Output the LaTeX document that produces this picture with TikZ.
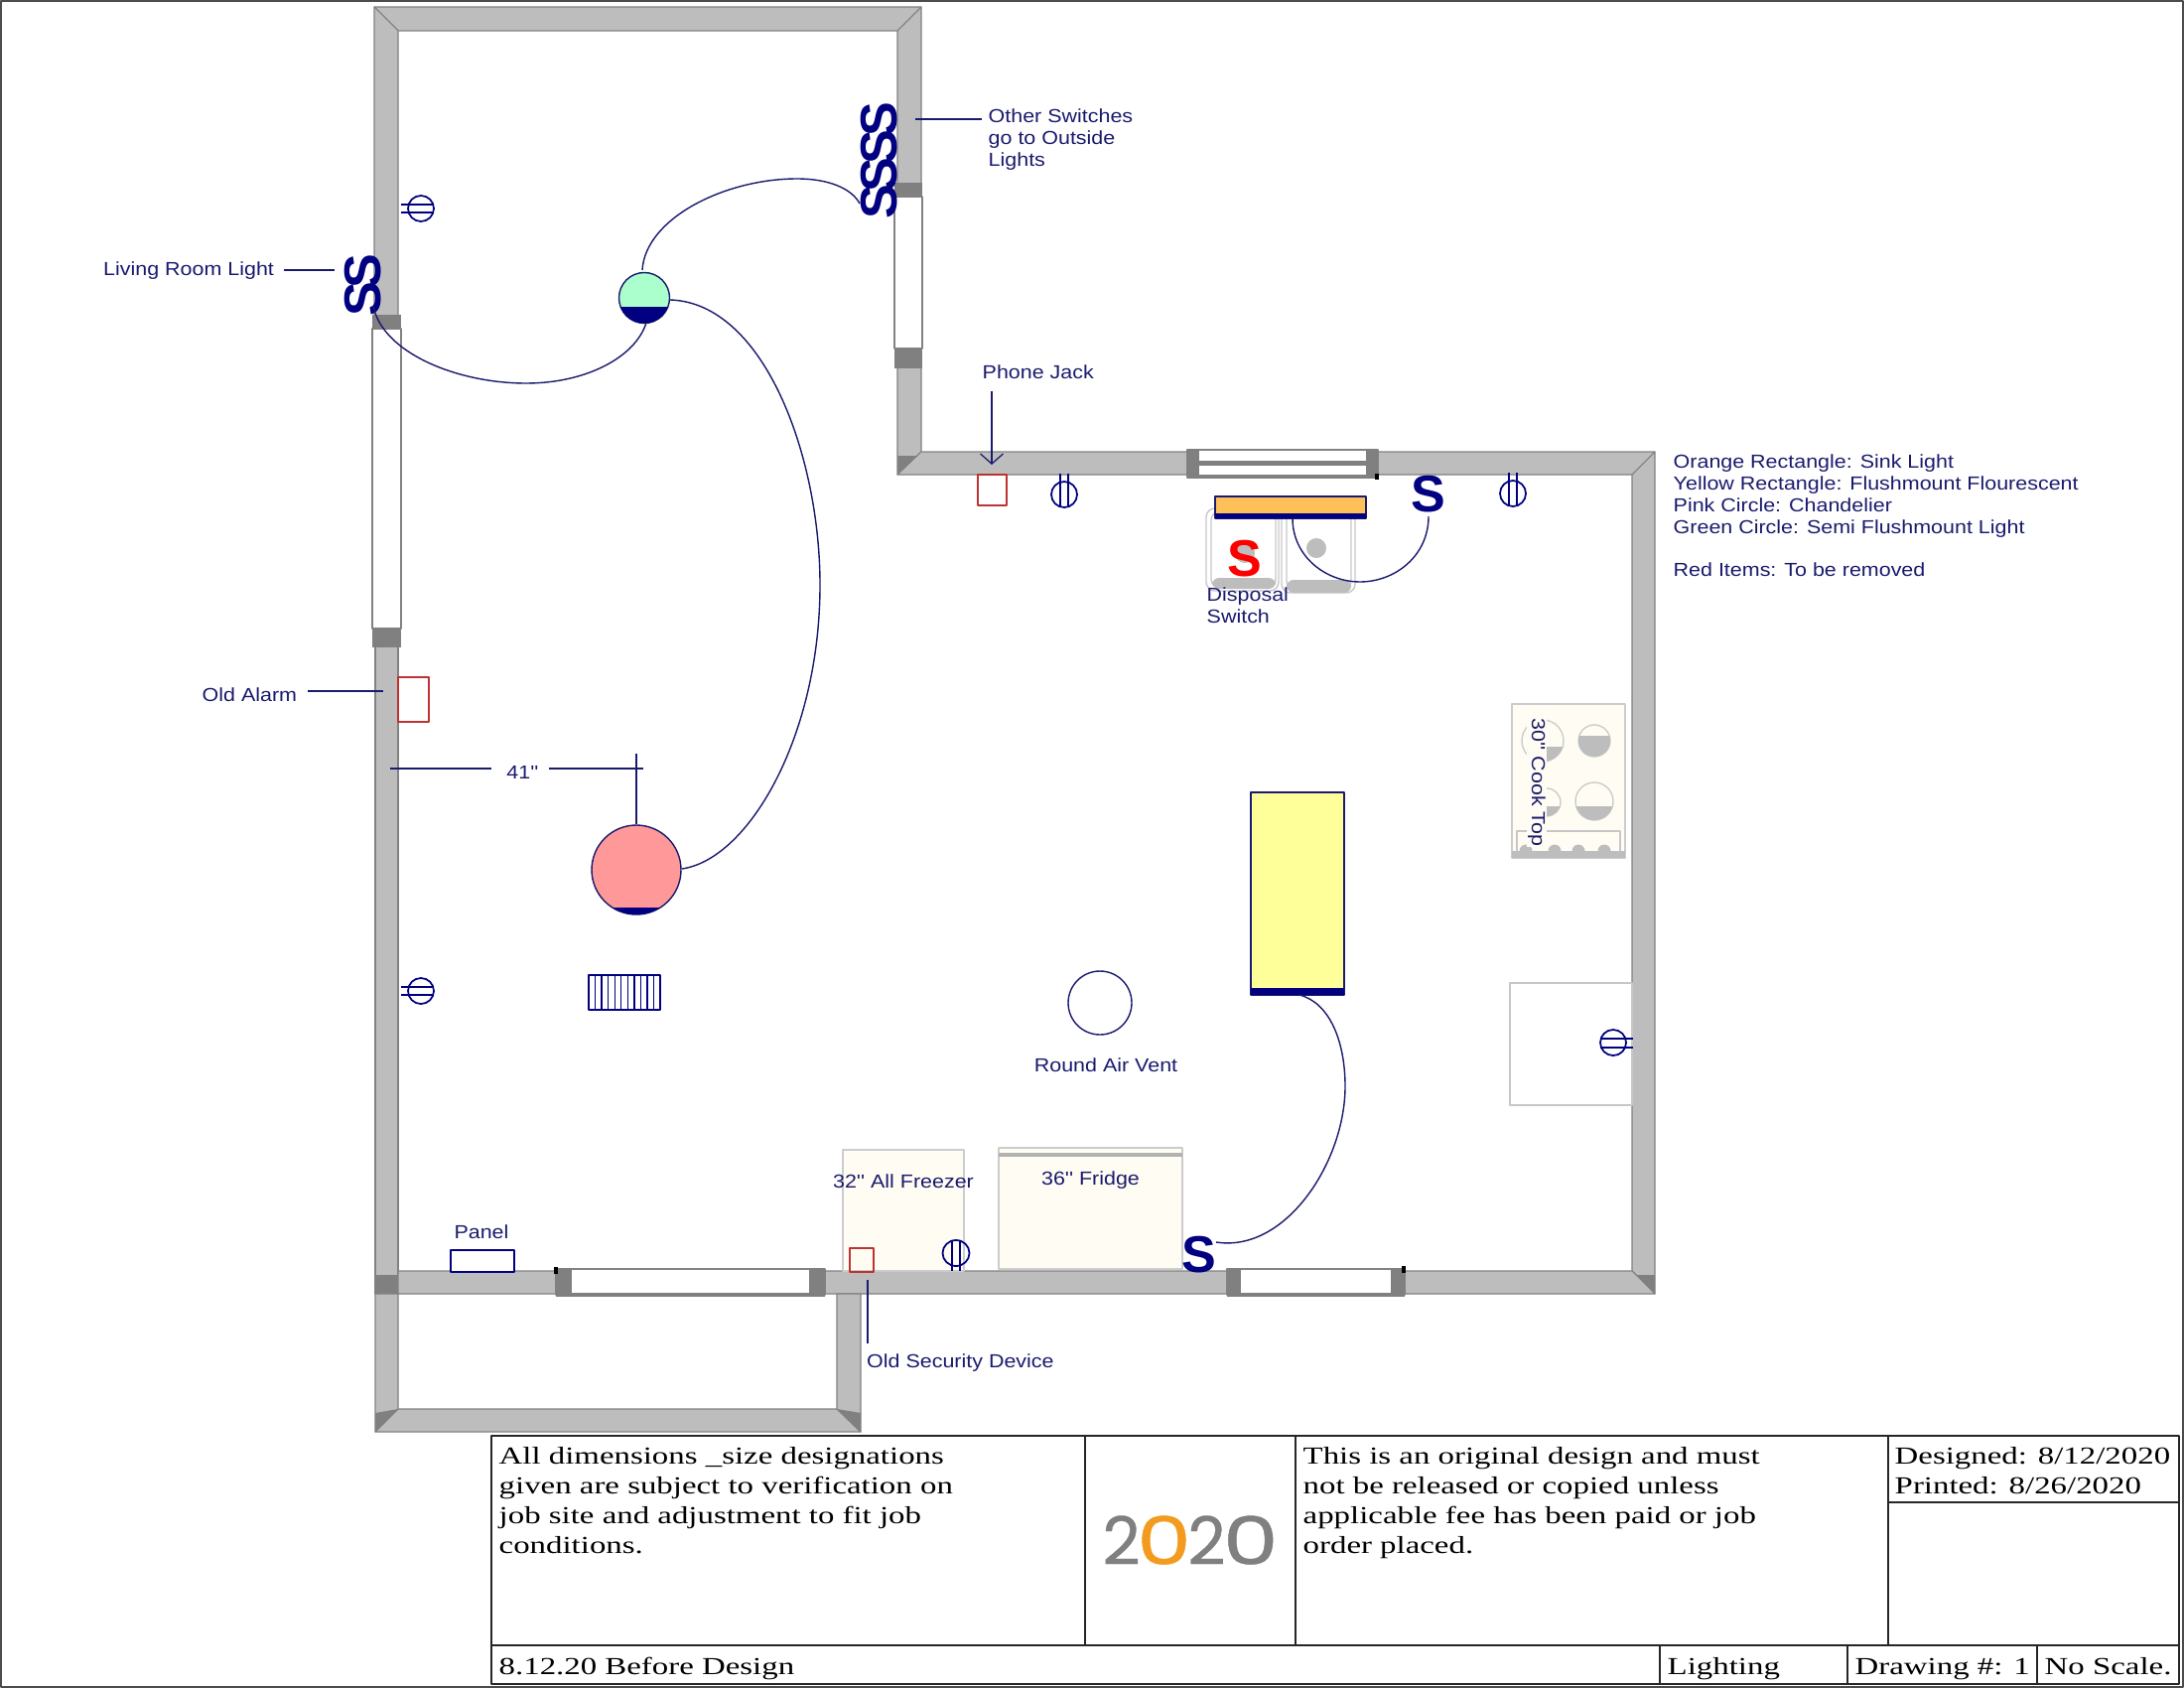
\documentclass[tikz,border=0pt]{standalone}
\usepackage{fontspec}
\usepackage{xcolor}
\usetikzlibrary{arrows.meta}
\newfontfamily\labelfont[FakeStretch=1.13]{Liberation Sans}
\newfontfamily\switchfont[BoldFont=Liberation Sans Bold]{Liberation Sans}
\newfontfamily\blockfont[FakeStretch=1.335]{Liberation Serif}
\newfontfamily\logofont[FakeBold=0.5]{Poppins}
\definecolor{wall}{RGB}{189,189,189}
\definecolor{wallline}{RGB}{130,130,130}
\definecolor{jamb}{RGB}{128,128,128}
\definecolor{ink}{RGB}{26,26,110}
\definecolor{switchblue}{RGB}{0,0,128}
\definecolor{ivory}{RGB}{255,253,243}
\definecolor{greenlamp}{RGB}{170,255,204}
\definecolor{pinklamp}{RGB}{255,153,153}
\definecolor{yellowlamp}{RGB}{255,255,153}
\definecolor{orangelamp}{RGB}{255,192,90}
\definecolor{oldred}{RGB}{190,50,50}
\definecolor{logogray}{RGB}{128,128,128}
\definecolor{logoorange}{RGB}{242,155,31}
\tikzset{
  wallpart/.style={fill=wall, draw=wallline, line width=0.3pt},
  corner/.style={fill=jamb, draw=none},
  windowpane/.style={fill=white, draw=wallline, line width=0.4pt},
  jambpart/.style={fill=jamb, draw=none},
  wire/.style={draw=ink, line width=0.4pt},
  leader/.style={draw=ink, line width=0.35pt},
  txt/.style={font=\labelfont\fontsize{5.4}{6.2}\selectfont, text=ink, inner sep=0pt},
  switchs/.style={font=\switchfont\bfseries\fontsize{14.8}{14.8}\selectfont, text=switchblue, inner sep=0pt},
  jack/.style={draw=switchblue, line width=0.5pt},
  oldbox/.style={draw=oldred, line width=0.4pt},
  appliance/.style={fill=ivory, draw=black!20, line width=0.4pt},
  sinkline/.style={draw=black!22, line width=0.4pt},
  burner/.style={draw=black!20, line width=0.4pt, fill=ivory},
  block/.style={draw=black!85, line width=0.45pt},
  blocktxt/.style={font=\blockfont\fontsize{7}{8.53}\selectfont, text=black, inner sep=0pt, align=left}
}
\begin{document}
\begin{tikzpicture}[x=0.01cm, y=-0.01cm, line join=round]
\useasboundingbox (0,0) rectangle (2200,1700);
\draw[black!70, line width=0.4pt] (1,1) rectangle (2199,1699);

\draw[wallpart] (377,7)--(928,7)--(904,31)--(401,31)--cycle;
\draw[wallpart] (377,7)--(401,31)--(401,320)--(377,320)--cycle;
\draw[wallpart] (928,7)--(904,31)--(904,190)--(928,190)--cycle;
\draw[wallpart] (904,360)--(928,360)--(928,455)--(904,478)--cycle;
\draw[wallpart] (904,478)--(928,455)--(1667,455)--(1644,478)--cycle;
\draw[corner] (904,459)--(924,459)--(904,478)--cycle;
\draw[wallpart] (1667,455)--(1644,478)--(1644,1280)--(1667,1303)--cycle;
\draw[corner] (1644,1284)--(1667,1284)--(1667,1303)--cycle;
\draw[wallpart] (378,640)--(401,640)--(401,1303)--(378,1303)--cycle;
\draw[wallpart] (401,1280)--(1644,1280)--(1667,1303)--(401,1303)--cycle;
\draw[wallpart] (378,1303)--(401,1303)--(401,1419)--(378,1442)--cycle;
\draw[wallpart] (378,1442)--(401,1419)--(843,1419)--(867,1442)--cycle;
\draw[wallpart] (843,1303)--(867,1303)--(867,1442)--(843,1419)--cycle;
\draw[corner] (378,1284)--(401,1284)--(401,1303)--(378,1303)--cycle;
\draw[corner] (378,1423)--(401,1419)--(378,1442)--cycle;
\draw[corner] (843,1419)--(867,1423)--(867,1442)--cycle;

\draw[windowpane] (375,331) rectangle (404,633);
\fill[jambpart] (375,317) rectangle (404,331);
\fill[jambpart] (375,633) rectangle (404,652);
\draw[windowpane] (901,198) rectangle (929,351);
\fill[jambpart] (901,184) rectangle (929,198);
\fill[jambpart] (901,351) rectangle (929,371);

\draw[windowpane] (1196,453) rectangle (1388,481);
\fill[jambpart] (1196,452) rectangle (1208,482);
\fill[jambpart] (1376,452) rectangle (1388,482);
\fill[jambpart] (1208,464) rectangle (1376,469);
\fill[jambpart] (1208,478) rectangle (1376,482);
\fill[black] (1385,477) rectangle (1389,483);

\draw[windowpane] (560,1278) rectangle (831,1304);
\fill[jambpart] (560,1277) rectangle (576,1306);
\fill[jambpart] (815,1277) rectangle (831,1306);
\fill[jambpart] (576,1302) rectangle (815,1306);
\fill[black] (558,1276) rectangle (562,1283);

\draw[windowpane] (1236,1278) rectangle (1415,1304);
\fill[jambpart] (1236,1277) rectangle (1250,1306);
\fill[jambpart] (1401,1277) rectangle (1415,1306);
\fill[jambpart] (1250,1302) rectangle (1401,1306);
\fill[black] (1412,1275) rectangle (1416,1282);

\draw[appliance] (849,1158) rectangle (971,1280);
\draw[appliance] (1006,1156) rectangle (1191,1278);
\fill[black!30] (1006,1161) rectangle (1191,1165);
\draw[sinkline, fill=white] (1521,990) -- (1644,990) -- (1644,1113) -- (1521,1113) -- cycle;

\draw[appliance] (1523,709) rectangle (1637,864);
\fill[wall] (1523,857) rectangle (1637,864);
\draw[sinkline] (1528,857) |- (1632,837) -- (1632,857);
\foreach \kx in {1537,1566,1590,1616} {
  \fill[wall] (\kx,857) -- ++(-6.5,0) arc[start angle=180, end angle=360, radius=6.5] -- cycle;
}
\foreach \bx/\by/\br/\bl/\bs in {1554/746/21/752/1540, 1606/746/16/741/1576, 1558/808/14/812/1540, 1606/807/19/812/1576} {
  \draw[burner] (\bx,\by) circle (\br);
  \begin{scope}
    \clip (\bx,\by) circle (\br);
    \fill[wall] (\bs,\bl) rectangle (\bx+30,\by+30);
  \end{scope}
}
\node[txt, rotate=-90, fill=ivory, inner sep=0.3pt] (cooktop) at (1548,788) {30'' Cook Top};

\draw[sinkline, rounded corners=2.5pt] (1215,512) rectangle (1288,595);
\draw[sinkline, rounded corners=2.5pt] (1220,515) rectangle (1285,592);
\draw[sinkline, rounded corners=2.5pt] (1291,512) rectangle (1365,597);
\draw[sinkline, rounded corners=2.5pt] (1296,515) rectangle (1361,594);
\fill[wall, rounded corners=2pt] (1221,582) rectangle (1285,593);
\fill[wall, rounded corners=2pt] (1296,584) rectangle (1361,597);
\fill[wall] (1254,557) circle (10);
\fill[wall] (1326,552) circle (10);

\draw[ink, line width=0.5pt, fill=orangelamp] (1224,500) rectangle (1376,522);
\fill[switchblue] (1224,517) rectangle (1376,522);
\draw[ink, line width=0.4pt, fill=yellowlamp] (1260,798) rectangle (1354,1002);
\fill[switchblue] (1260,995) rectangle (1354,1002);

\coordinate (greenlamp) at (649,300);
\draw[ink, line width=0.4pt, fill=greenlamp] (greenlamp) circle (25.5);
\begin{scope}
  \clip (greenlamp) circle (25.5);
  \fill[switchblue] (620,309) rectangle (680,330);
\end{scope}
\coordinate (pinklamp) at (641,876);
\draw[ink, line width=0.4pt, fill=pinklamp] (pinklamp) circle (45);
\begin{scope}
  \clip (pinklamp) circle (45);
  \fill[switchblue] (590,914) rectangle (690,925);
\end{scope}

\node[switchs, rotate=90] (ss1) at (365.5,273) {S};
\node[switchs, rotate=90] (ss2) at (365.5,301) {S};
\node[switchs, rotate=90] (sa) at (885.5,120) {S};
\node[switchs, rotate=90] (sb) at (885.5,148) {S};
\node[switchs, rotate=90] (sc) at (885.5,176) {S};
\node[switchs, rotate=90] (sd) at (885.5,203) {S};
\node[switchs] (skitchen) at (1439,498) {S};
\node[switchs] (sfridge) at (1208,1264) {S};
\node[switchs, text=red] (sdisposal) at (1254,563) {S};

\coordinate (g1) at (647,272);
\coordinate (g2) at (803,180);
\coordinate (g3) at (866,205);
\coordinate (h1) at (651,325);
\coordinate (h2) at (530,386);
\coordinate (h3) at (376,308);
\coordinate (k1) at (675,302);
\coordinate (k2) at (826,589);
\coordinate (k3) at (687,875);
\coordinate (y1) at (1309,1002);
\coordinate (y2) at (1355,1094);
\coordinate (y3) at (1225,1251);
\coordinate (o1) at (1302,522);
\coordinate (o2) at (1370,586);
\coordinate (o3) at (1439,520);
\draw[wire] (g1) .. controls (650,220) and (730,180) .. (g2) .. controls (835,180) and (858,190) .. (g3);
\draw[wire] (h1) .. controls (640,360) and (590,386) .. (h2) .. controls (460,386) and (385,355) .. (h3);
\draw[wire] (k1) .. controls (770,305) and (826,460) .. (k2) .. controls (826,740) and (755,865) .. (k3);
\draw[wire] (y1) .. controls (1340,1010) and (1355,1050) .. (y2) .. controls (1355,1170) and (1295,1262) .. (y3);
\draw[wire] (o1) .. controls (1302,560) and (1335,586) .. (o2) .. controls (1405,586) and (1439,560) .. (o3);

\foreach \jx/\jy in {424/210, 424/998} {
  \draw[jack] (\jx,\jy) ellipse (13 and 13);
  \draw[jack] (\jx-20,\jy-4) -- (\jx+13,\jy-4);
  \draw[jack] (\jx-20,\jy+4) -- (\jx+13,\jy+4);
}
\draw[jack] (1625,1050) circle (13);
\draw[jack] (1612,1046) -- (1645,1046);
\draw[jack] (1612,1055) -- (1645,1055);
\foreach \jx/\jy in {1072/498, 1524/497} {
  \draw[jack] (\jx,\jy) circle (13);
  \draw[jack] (\jx-4,\jy-21) -- (\jx-4,\jy+13);
  \draw[jack] (\jx+4,\jy-21) -- (\jx+4,\jy+13);
}
\draw[jack] (963,1262) ellipse (13.5 and 13);
\draw[jack] (959,1249) -- (959,1280);
\draw[jack] (967,1249) -- (967,1280);

\draw[oldbox] (985,478) rectangle (1014,509);
\draw[oldbox] (401,682) rectangle (432,727);
\draw[oldbox] (856,1257) rectangle (880,1281);
\draw[jack, fill=white] (454,1259) rectangle (518,1281);

\draw[jack, line width=0.4pt] (593,982) rectangle (665,1017);
\foreach \r in {1,...,10} {
  \draw[jack, line width=0.4pt] (593+\r*6.55,982) -- (593+\r*6.55,1017);
}
\draw[ink, line width=0.4pt] (1108,1010) circle (32);

\node[txt, anchor=west] (living) at (103.5,273) {Living Room Light};
\coordinate (livinga) at (286,272);
\coordinate (livingb) at (337,272);
\draw[leader] (livinga) -- (livingb);
\node[txt, anchor=west] (alarm) at (203,699.5) {Old Alarm};
\coordinate (alarma) at (310,696);
\coordinate (alarmb) at (386,696);
\draw[leader] (alarma) -- (alarmb);
\node[txt, anchor=north west, align=left] (other) at (995,109) {Other Switches\\go to Outside\\Lights};
\coordinate (othera) at (922,120);
\coordinate (otherb) at (989,120);
\draw[leader] (othera) -- (otherb);
\node[txt, anchor=west] (phone) at (989,374.5) {Phone Jack};
\coordinate (phonea) at (999,394);
\coordinate (phoneb) at (999,468);
\draw[leader, -{Straight Barb[length=2.9pt, width=6.5pt]}] (phonea) -- (phoneb);
\node[txt, anchor=north west, align=left] (disposal) at (1215,591) {Disposal\\Switch};
\node[txt] (dim) at (526.5,777.5) {41''};
\coordinate (dima) at (393,774);
\coordinate (dimb) at (495,774);
\coordinate (dimc) at (553,774);
\coordinate (dimd) at (648,774);
\coordinate (dime) at (641,759);
\coordinate (dimf) at (641,830);
\draw[leader] (dima) -- (dimb);
\draw[leader] (dimc) -- (dimd);
\draw[leader] (dime) -- (dimf);
\node[txt] (vent) at (1114,1072.5) {Round Air Vent};
\node[txt] (panel) at (485,1240.5) {Panel};
\node[txt] (freezer) at (910,1189.5) {32'' All Freezer};
\node[txt] (fridge) at (1098.5,1189) {36'' Fridge};
\node[txt, anchor=west] (security) at (872.5,1372.5) {Old Security Device};
\coordinate (securitya) at (874,1289);
\coordinate (securityb) at (874,1353);
\draw[leader] (securitya) -- (securityb);
\node[txt, anchor=north west, align=left] (legend) at (1685,457.5) {Orange Rectangle: Sink Light\\Yellow Rectangle: Flushmount Flourescent\\Pink Circle: Chandelier\\Green Circle: Semi Flushmount Light\\[6.2pt]Red Items: To be removed};

\draw[block, fill=white] (495,1446) rectangle (2195,1696);
\draw[block] (495,1657) -- (2195,1657);
\draw[block] (1093,1446) -- (1093,1657);
\draw[block] (1305,1446) -- (1305,1657);
\draw[block] (1902,1446) -- (1902,1657);
\draw[block] (1902,1513) -- (2195,1513);
\draw[block] (1672,1657) -- (1672,1696);
\draw[block] (1861,1657) -- (1861,1696);
\draw[block] (2052,1657) -- (2052,1696);

\node[blocktxt, anchor=north west] (note) at (502,1456.5) {All dimensions \_size designations\\given are subject to verification on\\job site and adjustment to fit job\\conditions.};
\node[blocktxt, anchor=north west] (rights) at (1312,1456.5) {This is an original design and must\\not be released or copied unless\\applicable fee has been paid or job\\order placed.};
\node[blocktxt, anchor=north west] (dates) at (1908,1456.5) {Designed: 8/12/2020\\Printed: 8/26/2020};
\node[blocktxt, anchor=base west] (drawname) at (502,1686) {8.12.20 Before Design};
\node[blocktxt, anchor=base west] (trade) at (1679,1686) {Lighting};
\node[blocktxt, anchor=base west] (number) at (1868,1686) {Drawing \#: 1};
\node[blocktxt, anchor=base west] (scale) at (2059,1686) {No Scale.};
\node[font=\logofont\fontsize{19}{19}\selectfont, text=logogray, inner sep=0pt] (logo) at (1199,1551) {2\kern-1pt\textcolor{logoorange}{\scalebox{1.3}[1]{0}}\kern-1pt2\kern-0.8pt\scalebox{1.33}[1]{0}};
\end{tikzpicture}
\end{document}
